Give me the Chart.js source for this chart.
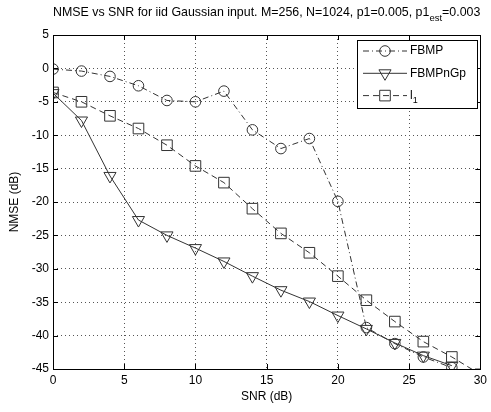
<!DOCTYPE html>
<html>
<head>
<meta charset="utf-8">
<script src="https://cdn.jsdelivr.net/npm/chart.js@4.4.1/dist/chart.umd.min.js"></script>
<style>
  html, body { margin: 0; padding: 0; background: #fff; }
  #wrap { width: 491px; height: 412px; }
</style>
</head>
<body>
<div id="wrap"><canvas id="nmseChart" width="491" height="412"></canvas></div>
<script>
// SNR points (dB)
const snrDb = [0, 2, 4, 6, 8, 10, 12, 14, 16, 18, 20, 22, 24, 26, 28];
const snrDbL1 = [0, 2, 4, 6, 8, 10, 12, 14, 16, 18, 20, 22, 24, 26, 28, 30];

// NMSE (dB)
const nmseFbmp = [-0.1, -0.4, -1.2, -2.6, -4.8, -5.0, -3.4, -9.2, -12.0, -10.5, -19.9, -38.8, -41.2, -43.2, -44.8];
const nmseFbmpNGp = [-3.7, -7.8, -16.1, -22.7, -25.0, -26.9, -28.9, -31.1, -33.2, -34.9, -37.0, -39.0, -41.1, -43.0, -44.5];
const nmseL1 = [-3.6, -5.0, -7.1, -9.0, -11.5, -14.6, -17.1, -21.0, -24.7, -27.6, -31.1, -34.7, -37.9, -40.9, -43.2, -45.8];

const xTicks = [0, 5, 10, 15, 20, 25, 30];
const yTicks = [5, 0, -5, -10, -15, -20, -25, -30, -35, -40, -45];

const FONT = 'Arial, "Liberation Sans", Helvetica, sans-serif';
const INK = '#333333';
const NOFILL = 'rgba(0,0,0,0)';

const toXY = (xs, ys) => xs.map((x, i) => ({ x: x, y: ys[i] }));

const legendItems = [
    { label: 'FBMP', sub: '', dash: [6, 3, 1, 3], style: 'circle', r: 5.3, rot: 0 },
    { label: 'FBMPnGp', sub: '', dash: [], style: 'triangle', r: 7, rot: 180 },
    { label: 'l', sub: '1', dash: [6, 4], style: 'rect', r: 7.5, rot: 0 }
];

// axes frame, inward ticks, legend box and title (MATLAB look)
const matlabDecor = {
    id: 'matlabDecor',
    afterDraw(chart) {
        const ctx = chart.ctx;
        const a = chart.chartArea;
        const xs = chart.scales.x;
        const ys = chart.scales.y;
        ctx.save();

        // frame
        ctx.strokeStyle = '#000';
        ctx.lineWidth = 1;
        ctx.setLineDash([]);
        ctx.strokeRect(Math.round(a.left) + 0.5, Math.round(a.top) + 0.5,
            Math.round(a.right - a.left), Math.round(a.bottom - a.top));

        // tick marks pointing inward
        const tl = 5;
        ctx.beginPath();
        xTicks.forEach(v => {
            const px = Math.round(xs.getPixelForValue(v)) + 0.5;
            ctx.moveTo(px, a.bottom); ctx.lineTo(px, a.bottom - tl);
            ctx.moveTo(px, a.top); ctx.lineTo(px, a.top + tl);
        });
        yTicks.forEach(v => {
            const py = Math.round(ys.getPixelForValue(v)) + 0.5;
            ctx.moveTo(a.left, py); ctx.lineTo(a.left + tl, py);
            ctx.moveTo(a.right, py); ctx.lineTo(a.right - tl, py);
        });
        ctx.stroke();

        // legend
        const bx = 357.5, by = 40.5, bw = 120, bh = 68;
        ctx.fillStyle = '#fff';
        ctx.fillRect(bx, by, bw, bh);
        ctx.strokeStyle = '#000';
        ctx.strokeRect(bx, by, bw, bh);
        ctx.font = '12px ' + FONT;
        ctx.textBaseline = 'middle';
        legendItems.forEach((it, i) => {
            const cy = 51 + i * 22.3;
            ctx.strokeStyle = INK;
            ctx.setLineDash(it.dash);
            ctx.beginPath();
            ctx.moveTo(363, cy); ctx.lineTo(407, cy);
            ctx.stroke();
            ctx.setLineDash([]);
            ctx.fillStyle = NOFILL;
            Chart.helpers.drawPoint(ctx, {
                pointStyle: it.style, radius: it.r, rotation: it.rot, borderWidth: 1
            }, 385, cy);
            ctx.fillStyle = '#000';
            ctx.fillText(it.label, 410, cy);
            if (it.sub) {
                const w = ctx.measureText(it.label).width;
                ctx.font = '9px ' + FONT;
                ctx.fillText(it.sub, 410 + w, cy + 5);
                ctx.font = '12px ' + FONT;
            }
        });

        // title with subscript
        const t1 = 'NMSE vs SNR for iid Gaussian input. M=256, N=1024, p1=0.005, p1';
        const t2 = 'est';
        const t3 = '=0.003';
        const big = '12.4px ' + FONT;
        const small = '9.5px ' + FONT;
        ctx.fillStyle = '#000';
        ctx.font = big;
        const w1 = ctx.measureText(t1).width;
        const w3 = ctx.measureText(t3).width;
        ctx.font = small;
        const w2 = ctx.measureText(t2).width;
        const cx = (a.left + a.right) / 2;
        const x0 = cx - (w1 + w2 + w3) / 2;
        ctx.textAlign = 'left';
        ctx.font = big;
        ctx.fillText(t1, x0, 13);
        ctx.font = small;
        ctx.fillText(t2, x0 + w1, 18);
        ctx.font = big;
        ctx.fillText(t3, x0 + w1 + w2, 13);

        ctx.restore();
    }
};

new Chart(document.getElementById('nmseChart').getContext('2d'), {
    type: 'line',
    data: {
        datasets: [
            {
                label: 'FBMP',
                data: toXY(snrDb, nmseFbmp),
                borderColor: INK,
                borderWidth: 1,
                borderDash: [6, 3, 1, 3],
                pointStyle: 'circle',
                pointRadius: 5.3,
                pointBorderColor: INK,
                pointBackgroundColor: NOFILL,
                pointBorderWidth: 1,
                tension: 0
            },
            {
                label: 'FBMPnGp',
                data: toXY(snrDb, nmseFbmpNGp),
                borderColor: INK,
                borderWidth: 1,
                pointStyle: 'triangle',
                pointRotation: 180,
                pointRadius: 7,
                pointBorderColor: INK,
                pointBackgroundColor: NOFILL,
                pointBorderWidth: 1,
                tension: 0
            },
            {
                label: 'l1',
                data: toXY(snrDbL1, nmseL1),
                borderColor: INK,
                borderWidth: 1,
                borderDash: [6, 4],
                pointStyle: 'rect',
                pointRadius: 7.5,
                pointBorderColor: INK,
                pointBackgroundColor: NOFILL,
                pointBorderWidth: 1,
                tension: 0
            }
        ]
    },
    options: {
        responsive: false,
        animation: false,
        events: [],
        layout: { padding: { top: 35, right: 9, left: 0, bottom: 0 } },
        plugins: {
            legend: { display: false },
            title: { display: false },
            tooltip: { enabled: false }
        },
        scales: {
            x: {
                type: 'linear',
                min: 0,
                max: 30,
                afterFit(scale) { scale.height = 43; },
                afterBuildTicks(scale) { scale.ticks = xTicks.map(v => ({ value: v })); },
                ticks: {
                    autoSkip: false,
                    maxRotation: 0,
                    padding: 4,
                    color: '#000',
                    font: { family: FONT, size: 12 }
                },
                grid: { color: '#555', lineWidth: 1, drawTicks: false },
                border: { display: false, dash: [1, 3] },
                title: {
                    display: true,
                    text: 'SNR (dB)',
                    color: '#000',
                    font: { family: FONT, size: 12 },
                    padding: { top: 4, bottom: 8 }
                }
            },
            y: {
                type: 'linear',
                min: -45,
                max: 5,
                afterFit(scale) { scale.width = 53; },
                afterBuildTicks(scale) { scale.ticks = yTicks.map(v => ({ value: v })); },
                ticks: {
                    autoSkip: false,
                    padding: 4,
                    color: '#000',
                    font: { family: FONT, size: 12 }
                },
                grid: { color: '#555', lineWidth: 1, drawTicks: false },
                border: { display: false, dash: [1, 3] },
                title: {
                    display: true,
                    text: 'NMSE (dB)',
                    color: '#000',
                    font: { family: FONT, size: 12 },
                    padding: { top: 7, bottom: 0 }
                }
            }
        }
    },
    plugins: [matlabDecor]
});
</script>
</body>
</html>
